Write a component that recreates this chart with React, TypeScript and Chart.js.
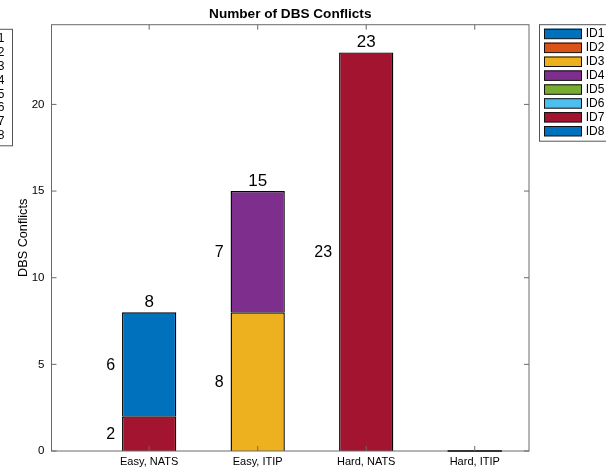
import React, { useEffect, useRef } from 'react';
import { Chart, registerables } from 'chart.js';

Chart.register(...registerables);

const FONT = '"Liberation Sans", Arial, Helvetica, sans-serif';
Chart.defaults.font.family = FONT;

const categories = ['Easy, NATS', 'Easy, ITIP', 'Hard, NATS', 'Hard, ITIP'];
const seriesNames = ['ID1', 'ID2', 'ID3', 'ID4', 'ID5', 'ID6', 'ID7', 'ID8'];
const seriesColors = ['#0072BD', '#D95319', '#EDB120', '#7E2F8E', '#77AC30', '#4DBEEE', '#A2142F', '#0072BD'];

const id1 = [0, 0, 0, 0];
const id2 = [0, 0, 0, 0];
const id3 = [0, 8, 0, 0];
const id4 = [0, 7, 0, 0];
const id5 = [0, 0, 0, 0];
const id6 = [0, 0, 0, 0];
const id7 = [2, 0, 23, 0];
const id8 = [6, 0, 0, 0];
const seriesValues = [id1, id2, id3, id4, id5, id6, id7, id8];

const yTicks = [0, 5, 10, 15, 20];
const yMin = 0;
const yMax = 24.6;
const xMin = 0.1;
const xMax = 4.5;
const titleText = 'Number of DBS Conflicts';
const yTitle = 'DBS Conflicts';

const totals = categories.map((_, j) => seriesValues.reduce((s, arr) => s + arr[j], 0));

function drawLegend(ctx: CanvasRenderingContext2D, L: number, T: number) {
  const rowH = 13.9;
  ctx.save();
  ctx.fillStyle = '#fff';
  ctx.fillRect(L, T, 73, 116.5);
  ctx.strokeStyle = '#555';
  ctx.lineWidth = 1;
  ctx.strokeRect(L + 0.5, T + 0.5, 73, 116.5);
  seriesNames.forEach((name, i) => {
    const sy = T + 4.5 + i * rowH;
    ctx.fillStyle = seriesColors[i];
    ctx.fillRect(L + 5, sy, 38, 10);
    ctx.strokeStyle = '#111';
    ctx.strokeRect(L + 5.5, sy + 0.5, 37, 9.5);
    ctx.fillStyle = '#000';
    ctx.font = `12px ${FONT}`;
    ctx.textAlign = 'left';
    ctx.textBaseline = 'middle';
    ctx.fillText(name, L + 46.7, sy + 5.3);
  });
  ctx.restore();
}

const decor = {
  id: 'decor',
  afterDatasetsDraw(chart: any) {
    const ctx: CanvasRenderingContext2D = chart.ctx;
    const { left, right, top, bottom } = chart.chartArea;
    const xs = chart.scales.x;
    const ys = chart.scales.y;
    ctx.save();

    // zero-height bars
    totals.forEach((t, j) => {
      if (t === 0) {
        const el = chart.getDatasetMeta(0).data[j];
        const y0 = ys.getPixelForValue(0);
        ctx.strokeStyle = '#000';
        ctx.lineWidth = 1.8;
        ctx.beginPath();
        ctx.moveTo(el.x - el.width / 2, y0);
        ctx.lineTo(el.x + el.width / 2, y0);
        ctx.stroke();
      }
    });

    // frame
    ctx.strokeStyle = '#6a6a6a';
    ctx.lineWidth = 1;
    ctx.strokeRect(left, top, right - left, bottom - top);
    const line = (x1: number, y1: number, x2: number, y2: number) => {
      ctx.beginPath();
      ctx.moveTo(x1, y1);
      ctx.lineTo(x2, y2);
      ctx.stroke();
    };
    yTicks.forEach((v) => {
      const y = ys.getPixelForValue(v);
      line(left, y, left + 5, y);
      line(right, y, right - 5, y);
    });
    categories.forEach((_, j) => {
      const x = xs.getPixelForValue(j + 1);
      line(x, bottom, x, bottom - 5);
      line(x, top, x, top + 5);
    });

    // title
    ctx.fillStyle = '#000';
    ctx.font = `bold 13.6px ${FONT}`;
    ctx.textAlign = 'center';
    ctx.textBaseline = 'alphabetic';
    ctx.fillText(titleText, (left + right) / 2, 18);

    // segment labels
    ctx.font = `16px ${FONT}`;
    ctx.textAlign = 'right';
    ctx.textBaseline = 'middle';
    seriesValues.forEach((vals, i) => {
      const meta = chart.getDatasetMeta(i);
      vals.forEach((v, j) => {
        if (v > 0) {
          const el = meta.data[j];
          ctx.fillText(String(v), el.x - el.width / 2 - 7, (el.y + el.base) / 2 + 1);
        }
      });
    });

    // totals
    ctx.font = `17px ${FONT}`;
    ctx.textAlign = 'center';
    ctx.textBaseline = 'alphabetic';
    totals.forEach((t, j) => {
      if (t > 0) {
        const x = xs.getPixelForValue(j + 1);
        ctx.fillText(String(t), x, ys.getPixelForValue(t) - 5);
      }
    });

    drawLegend(ctx, 539, 24.2);
    drawLegend(ctx, -61, 28.8);
    ctx.restore();
  },
};

export default function App() {
  const ref = useRef<HTMLCanvasElement>(null);
  useEffect(() => {
    if (!ref.current) return;
    const chart = new Chart(ref.current, {
      type: 'bar',
      data: {
        datasets: seriesValues.map((vals, i) => ({
          label: seriesNames[i],
          data: vals.map((v, j) => ({ x: j + 1, y: v })),
          backgroundColor: seriesColors[i],
          borderColor: '#000',
          borderWidth: 1.4,
          borderSkipped: 'bottom',
          barPercentage: 0.5,
          categoryPercentage: 1,
        })),
      } as any,
      options: {
        responsive: false,
        animation: false,
        devicePixelRatio: 1,
        layout: { padding: { top: 24.7, right: 77, bottom: 0, left: 0 } },
        plugins: { legend: { display: false }, title: { display: false }, tooltip: { enabled: false } },
        scales: {
          x: {
            type: 'linear',
            min: xMin,
            max: xMax,
            stacked: true,
            offset: false,
            grid: { display: false, drawTicks: false },
            border: { display: false },
            afterBuildTicks: (s: any) => {
              s.ticks = categories.map((_, j) => ({ value: j + 1 }));
            },
            afterFit: (s: any) => {
              s.height = 19;
            },
            ticks: {
              autoSkip: false,
              maxRotation: 0,
              padding: 4,
              color: '#000',
              font: { family: FONT, size: 11 },
              callback: (v: any) => categories[Math.round(Number(v)) - 1] ?? '',
            },
          },
          y: {
            type: 'linear',
            min: yMin,
            max: yMax,
            stacked: true,
            grid: { display: false, drawTicks: false },
            border: { display: false },
            afterBuildTicks: (s: any) => {
              s.ticks = yTicks.map((v) => ({ value: v }));
            },
            afterFit: (s: any) => {
              s.width = 51.5;
            },
            ticks: { padding: 7, color: '#000', font: { family: FONT, size: 11.5 } },
            title: {
              display: true,
              text: yTitle,
              color: '#000',
              font: { family: FONT, size: 12.7 },
              padding: { top: 15.4, bottom: 0 },
            },
          },
        },
      } as any,
      plugins: [decor],
    });
    return () => chart.destroy();
  }, []);
  return (
    <div style={{ position: 'fixed', left: 0, top: 0, width: 606, height: 470, background: '#fff' }}>
      <canvas ref={ref} width={606} height={470} style={{ display: 'block' }} />
    </div>
  );
}
